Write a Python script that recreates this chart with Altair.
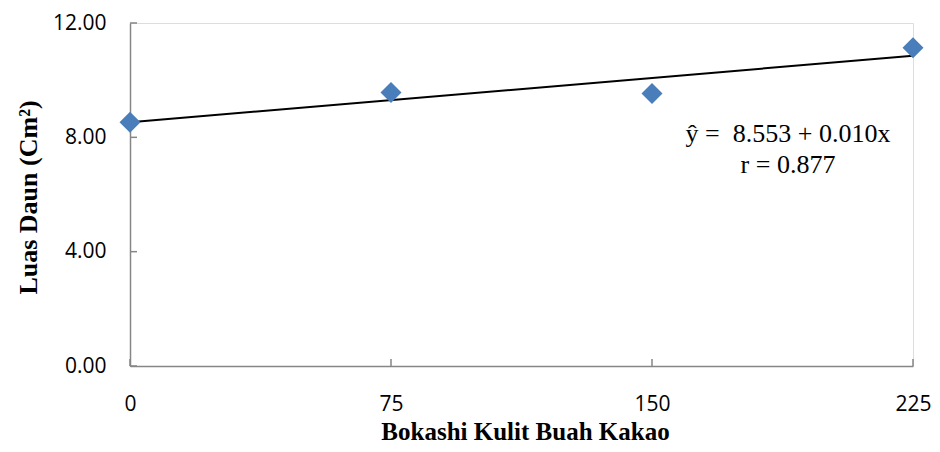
import altair as alt
import pandas as pd

# Data
doses = [0, 75, 150, 225]
leaf_area = [8.53, 9.57, 9.53, 11.13]
y_ticks = [0, 4, 8, 12]
x_ticks = [0, 75, 150, 225]
eq_lines = ["ŷ =\u00a0 8.553 + 0.010x", "r = 0.877"]

df = pd.DataFrame({"dose": doses, "area": leaf_area})
ytk = pd.DataFrame({"t": y_ticks})
xtk = pd.DataFrame({"t": x_ticks})

AX = "#868686"
LBL_FONT = "Open Sans"
TTL_FONT = "Liberation Serif"

W, H = 783, 343

xscale = alt.Scale(domain=[0, 225], nice=False, zero=False)
yscale = alt.Scale(domain=[0, 12], nice=False)

xaxis = alt.Axis(
    values=x_ticks, format="d", grid=False, ticks=True, tickSize=0, tickWidth=0,
    domainColor=AX, domainWidth=1.5,
    labelFont=LBL_FONT, labelFontSize=21, labelColor="black", labelPadding=27,
    labelBaseline="top", labelFlush=False,
    title="Bokashi Kulit Buah Kakao", titleFont=TTL_FONT, titleFontSize=25,
    titleFontWeight="bold", titleColor="black", titleX=395, titleY=65,
    titleBaseline="middle", titleAlign="center",
)
yaxis = alt.Axis(
    values=y_ticks, format=".2f", grid=False, ticks=True, tickSize=0, tickWidth=0,
    domainColor=AX, domainWidth=1.5,
    labelFont=LBL_FONT, labelFontSize=21, labelColor="black", labelPadding=24,
    labelBaseline="middle", labelFlush=False,
    title="Luas Daun (Cm²)", titleFont=TTL_FONT, titleFontSize=26,
    titleFontWeight="bold", titleColor="black", titleX=-102, titleY=174,
    titleBaseline="middle", titleAlign="center", titleAngle=270,
)

base = alt.Chart(df)

axes_layer = base.mark_point(opacity=0).encode(
    x=alt.X("dose:Q", scale=xscale, axis=xaxis),
    y=alt.Y("area:Q", scale=yscale, axis=yaxis),
)

ytick_marks = alt.Chart(ytk).mark_rule(color=AX, strokeWidth=1.5).encode(
    y=alt.Y("t:Q", scale=yscale),
    x=alt.value(0),
    x2=alt.value(7),
)
xtick_marks = alt.Chart(xtk).mark_rule(color=AX, strokeWidth=1.5).encode(
    x=alt.X("t:Q", scale=xscale),
    y=alt.value(H),
    y2=alt.value(H - 7),
)

line = base.transform_regression("dose", "area").mark_line(
    color="black", strokeWidth=2
).encode(
    x=alt.X("dose:Q", scale=xscale),
    y=alt.Y("area:Q", scale=yscale),
)

pts = base.mark_point(
    shape="diamond", filled=True, size=441, color="#4A7EBB", opacity=1
).encode(
    x=alt.X("dose:Q", scale=xscale),
    y=alt.Y("area:Q", scale=yscale),
)

eq1 = alt.Chart(pd.DataFrame({"s": [eq_lines[0]]})).mark_text(
    font=TTL_FONT, fontSize=26, color="black", align="center", baseline="alphabetic"
).encode(text="s:N", x=alt.value(658), y=alt.value(119))
eq2 = alt.Chart(pd.DataFrame({"s": [eq_lines[1]]})).mark_text(
    font=TTL_FONT, fontSize=26, color="black", align="center", baseline="alphabetic"
).encode(text="s:N", x=alt.value(658), y=alt.value(150))

chart = alt.layer(axes_layer, ytick_marks, xtick_marks, line, pts, eq1, eq2).properties(
    width=W, height=H,
    autosize=alt.AutoSizeParams(type="none"),
    padding={"left": 122, "top": 15, "right": 19, "bottom": 78},
).configure_view(stroke=None).configure(background="white")

chart.save("out.html", embed_options={"renderer": "svg", "actions": False})
